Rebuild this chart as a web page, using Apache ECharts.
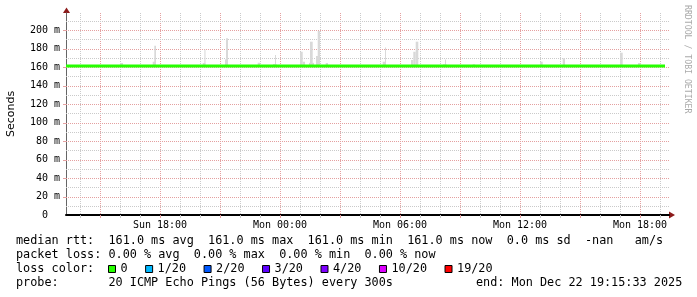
<!DOCTYPE html>
<html><head><meta charset="utf-8">
<script src="https://cdn.jsdelivr.net/npm/echarts@6/dist/echarts.min.js"></script>
<style>html,body{margin:0;padding:0;background:#fff}#c{width:697px;height:297px}</style>
</head><body><div id="c"></div>
<script>
// ---- data (time in hours relative to Sun 18:00) ----
const medianRtt = 161.0;
const medianSpan = [-4.7, 25.25];
// smoke: [startHour, endHour, topMs]
const smoke = [
  [-2.0, -1.85, 164.3],
  [-0.365, -0.2, 165.7], [-0.285, -0.2, 183],
  [2.135, 2.265, 164.3], [2.22, 2.275, 179],
  [3.25, 3.4, 168.3], [3.3, 3.4, 191],
  [4.885, 5.0, 164.6],
  [5.65, 5.835, 163.2], [5.75, 5.8, 173],
  [7.0, 7.135, 176.5], [7.135, 7.25, 165.7],
  [7.45, 7.7, 164.5], [7.5, 7.635, 187.4],
  [7.8, 8.0, 171.9], [7.885, 8.0, 199],
  [8.285, 8.4, 164.3],
  [11.135, 11.3, 165.7], [11.25, 11.3, 181],
  [12.55, 12.665, 167.6], [12.665, 12.785, 176.5], [12.785, 12.915, 187.4],
  [14.15, 14.335, 163], [14.25, 14.3, 168],
  [15.635, 15.75, 163],
  [19.0, 19.135, 165.7],
  [20.135, 20.25, 169.4],
  [23.0, 23.135, 175.5],
  [23.9, 24.035, 164.3]
];
const xTickHours = [0, 6, 12, 18, 24];
const xTickLabels = ['Sun 18:00', 'Mon 00:00', 'Mon 06:00', 'Mon 12:00', 'Mon 18:00'];
const lossLabels = ['0', '1/20', '2/20', '3/20', '4/20', '10/20', '19/20'];
const lossColors = ['#26ff00', '#00b8ff', '#0059ff', '#5e00ff', '#7e00ff', '#dd00ff', '#ff0000'];
const statLines = [
  'median rtt:  161.0 ms avg  161.0 ms max  161.0 ms min  161.0 ms now  0.0 ms sd  -nan   am/s',
  'packet loss: 0.00 % avg  0.00 % max  0.00 % min  0.00 % now',
  'loss color:',
  'probe:       20 ICMP Echo Pings (56 Bytes) every 300s'
];
const endText = 'end: Mon Dec 22 19:15:33 2025';

// ---- layout ----
const G = {left: 66, top: 13, width: 603, height: 202};
const X_MIN = -4.7, X_MAX = -4.7 + 603 / 20;
const Y_MAX = 218.4;
const RED = '#e4a0a0', GREY = '#cacaca';
const MONO = '"DejaVu Sans Mono"';

const gridData = [];
for (let h = -4; h <= 25; h++) gridData.push([0, h, h % 3 === 0 ? 1 : 0]);
for (let v = 10; v <= 210; v += 10) gridData.push([1, v, v % 20 === 0 ? 1 : 0]);

function renderGrid(params, api) {
  const kind = api.value(0), v = api.value(1), major = api.value(2);
  const cs = params.coordSys;
  const style = {stroke: major ? RED : GREY, lineWidth: 1, lineDash: [1, 1]};
  if (kind === 0) {
    const x = Math.round(api.coord([v, 0])[0]) + 0.5;
    return {type: 'group', children: [
      {type: 'line', shape: {x1: x, y1: cs.y, x2: x, y2: cs.y + cs.height}, style},
      {type: 'line', shape: {x1: x, y1: cs.y + cs.height, x2: x, y2: cs.y + cs.height + 3}, style: {stroke: major ? RED : GREY, lineWidth: 1}}
    ]};
  }
  const y = Math.round(api.coord([X_MIN, v])[1]) + 0.5;
  const ch = [{type: 'line', shape: {x1: cs.x, y1: y, x2: cs.x + cs.width, y2: y}, style}];
  if (major) ch.push({type: 'line', shape: {x1: cs.x - 3, y1: y, x2: cs.x, y2: y}, style: {stroke: RED, lineWidth: 1}});
  return {type: 'group', children: ch};
}
function renderSmoke(params, api) {
  const a = api.coord([api.value(0), api.value(2)]);
  const b = api.coord([api.value(1), medianRtt]);
  return {type: 'rect', shape: {x: a[0], y: a[1], width: b[0] - a[0], height: b[1] - a[1]}, style: {fill: '#d9d9d9'}};
}

const graphics = [];
statLines.forEach((t, i) => {
  graphics.push({type: 'text', x: 16, y: 241 + i * 14, style: {text: t, font: '11.82px ' + MONO, fill: '#000', verticalAlign: 'middle', textAlign: 'left'}});
});
graphics.push({type: 'text', x: 476, y: 283, style: {text: endText, font: '11.82px ' + MONO, fill: '#000', verticalAlign: 'middle', textAlign: 'left'}});
let bx = 108;
lossLabels.forEach((lab, i) => {
  graphics.push({type: 'rect', shape: {x: bx + 0.5, y: 265.5, width: 7, height: 7}, style: {fill: lossColors[i], stroke: '#000', lineWidth: 1}});
  graphics.push({type: 'text', x: bx + 12.5, y: 269, style: {text: lab, font: '11.82px ' + MONO, fill: '#000', verticalAlign: 'middle', textAlign: 'left'}});
  bx += lab.length * 7.115 + 30;
});
graphics.push({type: 'text', x: 11, y: 114, rotation: Math.PI / 2, style: {text: 'Seconds', font: '11px "DejaVu Sans"', fill: '#000', verticalAlign: 'middle', textAlign: 'center'}});
graphics.push({type: 'text', x: 687, y: 5, rotation: -Math.PI / 2, style: {text: 'RRDTOOL / TOBI OETIKER', font: '8.2px ' + MONO, fill: '#aaaaaa', verticalAlign: 'middle', textAlign: 'left'}});
graphics.push({type: 'polygon', shape: {points: [[63, 13], [70, 13], [66.5, 7.5]]}, style: {fill: '#8c1a1a'}});
graphics.push({type: 'polygon', shape: {points: [[669, 211.5], [669, 218.5], [675, 215]]}, style: {fill: '#8c1a1a'}});

const chart = echarts.init(document.getElementById('c'), null, {renderer: 'canvas'});
chart.setOption({
  backgroundColor: '#fff',
  animation: false,
  grid: G,
  xAxis: {
    type: 'value', min: X_MIN, max: X_MAX,
    axisLine: {show: true, onZero: false, lineStyle: {color: '#000', width: 2}},
    axisTick: {show: false}, splitLine: {show: false},
    axisLabel: {customValues: xTickHours, formatter: v => xTickLabels[xTickHours.indexOf(v)] || '', fontFamily: MONO, fontSize: 10, color: '#000', margin: 5}
  },
  yAxis: {
    type: 'value', min: 0, max: Y_MAX, interval: 20,
    axisLine: {show: true, onZero: false, lineStyle: {color: '#666', width: 1}},
    axisTick: {show: false}, splitLine: {show: false},
    axisLabel: {showMaxLabel: false, formatter: v => v === 0 ? '0  ' : v + ' m', fontFamily: MONO, fontSize: 10, color: '#000', margin: 6}
  },
  series: [
    {type: 'custom', name: 'grid', renderItem: renderGrid, data: gridData, silent: true, z: 1, encode: {x: 1, y: 1}},
    {type: 'custom', name: 'smoke', renderItem: renderSmoke, data: smoke, silent: true, z: 2, encode: {x: [0, 1], y: 2}},
    {type: 'line', name: 'median', data: medianSpan.map(h => [h, medianRtt]), showSymbol: false, symbol: 'none', lineStyle: {color: lossColors[0], width: 3}, z: 3, silent: true}
  ],
  graphic: graphics
});
</script></body></html>
